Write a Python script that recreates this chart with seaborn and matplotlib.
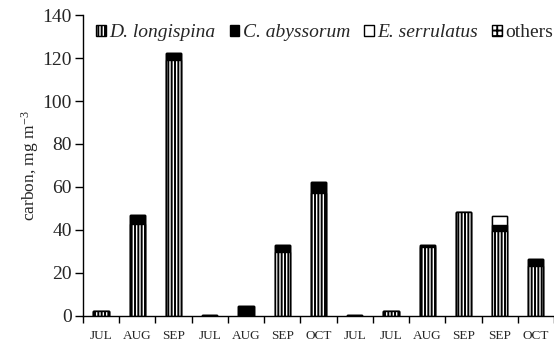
import numpy as np
import pandas as pd
import matplotlib
matplotlib.use("Agg")
import matplotlib.pyplot as plt
from matplotlib.patches import Patch
import seaborn as sns

# Sampling occasions (x categories) and carbon biomass per taxon, mg m^-3
months = ["JUL", "AUG", "SEP", "JUL", "AUG", "SEP", "OCT",
          "JUL", "JUL", "AUG", "SEP", "SEP", "OCT"]
d_longispina = [2.5, 42.6, 118.9, 0.0, 0.0, 29.8, 57.4, 0.0, 2.1, 32.0, 48.2, 39.7, 23.3]
c_abyssorum = [0.0, 4.4, 3.3, 0.6, 4.8, 3.1, 4.8, 0.5, 0.0, 1.0, 0.3, 2.5, 3.0]
e_serrulatus = [0.0, 0.0, 0.0, 0.0, 0.0, 0.0, 0.0, 0.0, 0.0, 0.0, 0.0, 4.3, 0.0]
others = [0.0] * 13
y_ticks = [0, 20, 40, 60, 80, 100, 120, 140]

sns.set_style("ticks")
plt.rcParams["font.family"] = ["Liberation Serif", "DejaVu Serif"]
plt.rcParams["mathtext.fontset"] = "custom"
plt.rcParams["mathtext.rm"] = "Liberation Serif"
plt.rcParams["mathtext.it"] = "Liberation Serif:italic"
plt.rcParams["hatch.linewidth"] = 1.4
plt.rcParams["hatch.color"] = "black"

df = pd.DataFrame({
    "sample": np.arange(len(months)),
    "D": d_longispina,
    "C": c_abyssorum,
    "E": e_serrulatus,
    "O": others,
})
# cumulative tops for the stacked segments
df["DC"] = df["D"] + df["C"]
df["DCE"] = df["DC"] + df["E"]
df["total"] = df["DCE"] + df["O"]

fig = plt.figure(figsize=(5.54, 3.49), dpi=100)
ax = fig.add_axes([0.1498, 0.0946, 0.8502, 0.8624])

bar_kw = dict(x="sample", width=0.42, saturation=1, edgecolor="black",
              linewidth=1.0, ax=ax, errorbar=None)
# draw from the tallest cumulative layer down so each segment shows
sns.barplot(data=df, y="total", color="white", hatch="++", **bar_kw)
sns.barplot(data=df, y="DCE", color="white", **bar_kw)
sns.barplot(data=df, y="DC", color="black", **bar_kw)
sns.barplot(data=df, y="D", color="white", hatch="|||||", **bar_kw)

ax.set_xlim(-0.5, len(months) - 0.5)
ax.set_ylim(0, 140)
ax.set_yticks(y_ticks)
ax.set_yticklabels([str(v) for v in y_ticks], fontsize=14, family="Liberation Serif")
ax.set_xticks(np.arange(len(months)))
ax.set_xticklabels(months, fontsize=9.5, family="Liberation Serif")
ax.set_xticks(np.arange(-0.5, len(months), 1.0), minor=True)
ax.tick_params(axis="x", which="major", length=0, pad=10)
ax.tick_params(axis="x", which="minor", length=5, width=1, direction="out", color="black")
ax.tick_params(axis="y", which="major", length=6, width=1, direction="out",
               color="black", pad=2)
ax.set_xlabel("")
ax.set_ylabel("carbon, mg m$^{-3}$", fontsize=12.5, labelpad=1)
for side in ("top", "right"):
    ax.spines[side].set_visible(False)
for side in ("left", "bottom"):
    ax.spines[side].set_color("black")
    ax.spines[side].set_linewidth(1.0)

handles = [
    Patch(facecolor="white", edgecolor="black", hatch="|||||", label="D. longispina"),
    Patch(facecolor="black", edgecolor="black", label="C. abyssorum"),
    Patch(facecolor="white", edgecolor="black", label="E. serrulatus"),
    Patch(facecolor="white", edgecolor="black", hatch="+++", label="others"),
]
leg = ax.legend(handles=handles, ncol=4, loc="upper left", bbox_to_anchor=(0.012, 0.995),
                frameon=False, fontsize=14, handlelength=0.5, handleheight=0.55,
                handletextpad=0.18, columnspacing=0.72, borderaxespad=0)
for t in leg.get_texts()[:3]:
    t.set_fontstyle("italic")

fig.savefig("out.png", dpi=100)
